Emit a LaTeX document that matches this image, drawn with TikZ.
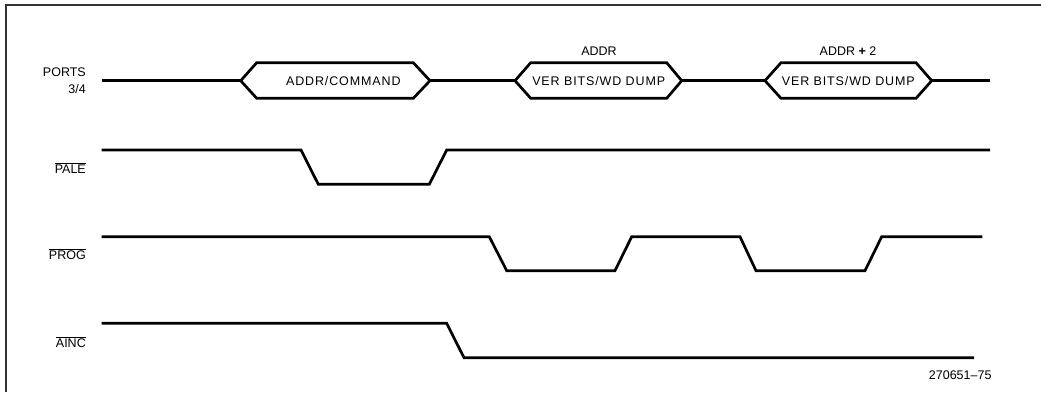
\documentclass[tikz,border=0pt]{standalone}
\usepackage{fontspec}
\setmainfont{Liberation Sans}
\usepackage{tikz}
\usetikzlibrary{positioning}

\begin{document}
\begin{tikzpicture}[x=1pt, y=-1pt,
  every node/.style={inner sep=0pt},
  texto/.style={font=\fontsize{12.5}{17}\selectfont},
  senal/.style={line width=2.7pt, line join=miter},
  marco/.style={line width=1.8pt, black!80},
  nombre/.style={texto, anchor=east, align=right},
  bus/.style={font=\fontsize{12.5}{17}\selectfont\addfontfeature{LetterSpace=7}}]
\useasboundingbox (0,0) rectangle (1041,394);
\draw[marco] (6,392) -- (6,5) -- (1041,5);
% nombres de las senales
\node[nombre] (ports) at (86,80.5) {PORTS\\3/4};
\node[nombre] (pale) at (86,168) {$\overline{\mbox{PALE}}$};
\node[nombre] (prog) at (86,254) {$\overline{\mbox{PROG}}$};
\node[nombre] (ainc) at (86,341.7) {$\overline{\mbox{AINC}}$};
% bus de puertos
\draw[senal] (101.7,80.7) -- (240.7,80.7);
\draw[senal] (240.7,80.7) -- (256.7,62.7) -- (413.3,62.7) -- (430,80.7) -- (413.3,98.3) -- (256.7,98.3) -- cycle;
\draw[senal] (430,80.7) -- (515,80.7);
\draw[senal] (515,80.7) -- (530.7,62.7) -- (666.7,62.7) -- (681.7,80.7) -- (666.7,98.3) -- (530.7,98.3) -- cycle;
\draw[senal] (681.7,80.7) -- (765,80.7);
\draw[senal] (765,80.7) -- (781,62.7) -- (916,62.7) -- (931.7,80.7) -- (916,98.3) -- (781,98.3) -- cycle;
\draw[senal] (931.7,80.7) -- (990,80.7);
\node[bus] (cmd) at (343.3,80.7) {ADDR/COMMAND};
\node[bus] (dump1) at (598.7,80.7) {VER BITS/WD DUMP};
\node[bus] (dump2) at (848.3,80.7) {VER BITS/WD DUMP};
\node[texto] (addr1) at (599,50.7) {ADDR};
\node[texto] (addr2) at (848,50.7) {ADDR \textbf{+} 2};
% lineas de control
\draw[senal] (101.7,150) -- (301,150) -- (318.3,184.3) -- (429.3,184.3) -- (446.7,150) -- (990,150);
\draw[senal] (101.7,236.7) -- (489.3,236.7) -- (506.7,270.7) -- (615,270.7) -- (631.7,236.7) -- (740,236.7)
  -- (756,270.7) -- (865,270.7) -- (881.7,236.7) -- (982.3,236.7);
\draw[senal] (101.7,323.3) -- (446.7,323.3) -- (464,357.7) -- (974,357.7);
\node[texto, anchor=east] (fig) at (991.7,375) {270651--75};
\end{tikzpicture}
\end{document}
